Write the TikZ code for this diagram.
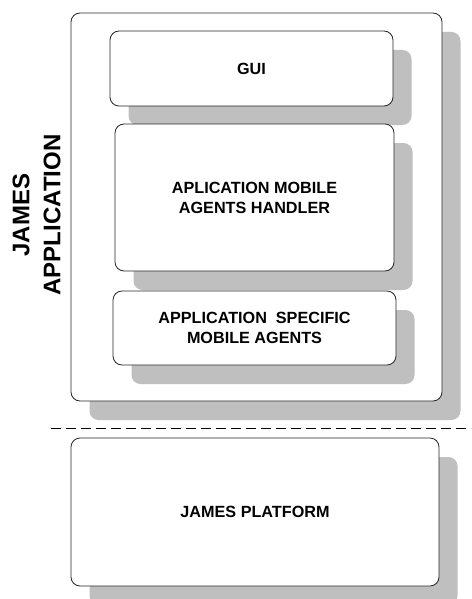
\documentclass[tikz,border=0pt]{standalone}
\usepackage{fontspec}
\setmainfont{Liberation Sans}
\usetikzlibrary{shadows}

\tikzset{
  layer/.style={draw=black!85, line width=0.8pt, fill=white,
    rounded corners=9pt, inner sep=0pt, align=center,
    font=\fontsize{16.2}{20}\selectfont\bfseries,
    drop shadow={shadow xshift=18.5pt, shadow yshift=-19pt,
      fill=black!25, opacity=1}},
}

\begin{document}
\begin{tikzpicture}[x=1pt, y=-1pt]
  \useasboundingbox (0,0) rectangle (471,599);
  \clip (0,0) rectangle (471,599);
  % --- application side ---
  \node[layer, minimum width=371pt, minimum height=388pt] (app) at (256.5,207) {};
  \node[layer, minimum width=283pt, minimum height=75pt] (gui) at (251.5,68.5) {GUI};
  \node[layer, minimum width=279pt, minimum height=147pt] (handler) at (254.5,197.5)
    {APLICATION MOBILE\\ AGENTS HANDLER};
  \node[layer, minimum width=283pt, minimum height=74pt] (agents) at (254.5,328)
    {APPLICATION\ \ SPECIFIC\\MOBILE AGENTS};
  \node[rotate=90, align=center, font=\fontsize{24}{31}\selectfont\bfseries]
    (applabel) at (36.5,215) {JAMES\\APPLICATION};
  % --- separation line ---
  \coordinate (sepl) at (51,428);
  \coordinate (sepr) at (471,428);
  \draw[line width=0.9pt, dash pattern=on 9.5pt off 5.5pt] (sepl) -- (sepr);
  % --- platform ---
  \node[layer, minimum width=368pt, minimum height=148pt] (platform) at (255,512)
    {JAMES PLATFORM};
\end{tikzpicture}
\end{document}
